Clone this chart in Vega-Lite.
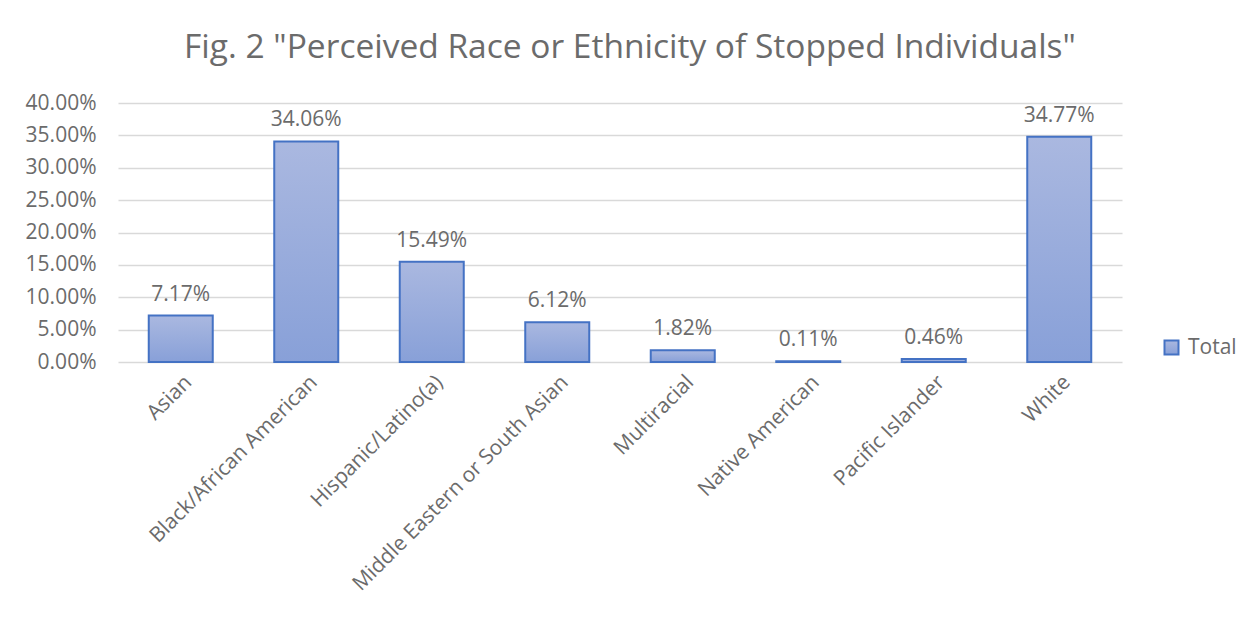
{
  "$schema": "https://vega.github.io/schema/vega-lite/v6.json",
  "autosize": {"type": "none"},
  "width": 1004,
  "height": 259,
  "padding": {"left": 118, "top": 103, "right": 136, "bottom": 257},
  "background": "white",
  "title": {
    "text": "Fig. 2 \"Perceived Race or Ethnicity of Stopped Individuals\"",
    "font": "Open Sans",
    "fontSize": 33.5,
    "fontWeight": "normal",
    "color": "#6b6b6b",
    "anchor": "middle",
    "dx": 10,
    "offset": 27
  },
  "config": {
    "font": "Open Sans",
    "view": {"stroke": null}
  },
  "data": {
    "values": [
      {"race": "Asian", "pct": 0.0717, "series": "Total"},
      {"race": "Black/African American", "pct": 0.3406, "series": "Total"},
      {"race": "Hispanic/Latino(a)", "pct": 0.1549, "series": "Total"},
      {"race": "Middle Eastern or South Asian", "pct": 0.0612, "series": "Total"},
      {"race": "Multiracial", "pct": 0.0182, "series": "Total"},
      {"race": "Native American", "pct": 0.0011, "series": "Total"},
      {"race": "Pacific Islander", "pct": 0.0046, "series": "Total"},
      {"race": "White", "pct": 0.3477, "series": "Total"}
    ]
  },
  "encoding": {
    "x": {
      "field": "race",
      "type": "nominal",
      "sort": null,
      "scale": {"paddingInner": 0.49, "paddingOuter": 0.245},
      "axis": {
        "title": null,
        "labelAngle": -45,
        "labelFontSize": 21,
        "labelColor": "#6b6b6b",
        "labelPadding": 9,
        "ticks": false,
        "domain": false,
        "labelLimit": 400
      }
    },
    "y": {
      "field": "pct",
      "type": "quantitative",
      "scale": {"domain": [0, 0.4], "nice": false},
      "axis": {
        "title": null,
        "format": ".2%",
        "values": [0, 0.05, 0.1, 0.15, 0.2, 0.25, 0.3, 0.35, 0.4],
        "labelFontSize": 21,
        "labelColor": "#6b6b6b",
        "labelPadding": 22,
        "ticks": false,
        "domain": false,
        "gridColor": "#D9D9D9",
        "gridWidth": 1.5
      }
    }
  },
  "layer": [
    {
      "mark": {
        "type": "bar",
        "strokeWidth": 2,
        "fill": {
          "gradient": "linear",
          "x1": 0, "y1": 0, "x2": 0, "y2": 1,
          "stops": [
            {"offset": 0, "color": "#AAB8E0"},
            {"offset": 1, "color": "#88A0D8"}
          ]
        }
      },
      "encoding": {
        "stroke": {
          "field": "series",
          "type": "nominal",
          "scale": {"range": ["#4472C4"]},
          "legend": {
            "title": null,
            "orient": "none",
            "legendX": 1043,
            "legendY": 234,
            "symbolType": "square",
            "symbolSize": 196,
            "symbolFillColor": "#99ACDC",
            "symbolStrokeWidth": 2,
            "symbolOpacity": 1,
            "labelFontSize": 21,
            "labelColor": "#6b6b6b",
            "labelOffset": 6
          }
        }
      }
    },
    {
      "mark": {"type": "text", "baseline": "alphabetic", "dy": -15, "fontSize": 21, "color": "#6b6b6b"},
      "encoding": {
        "text": {"field": "pct", "type": "quantitative", "format": ".2%"}
      }
    }
  ]
}
